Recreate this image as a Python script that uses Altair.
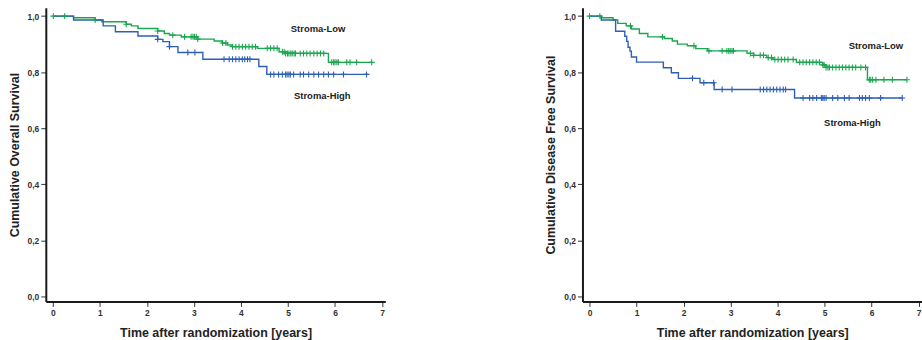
import altair as alt
import pandas as pd

GREEN = "#1aa64f"
BLUE = "#2f5fb3"

groups = ["Stroma-Low", "Stroma-High"]

# ---- Overall survival (left panel) ----
os_low_t = [0, 0.44, 0.9, 1.04, 1.56, 1.67, 1.81, 2.23, 2.37, 2.48, 2.73, 3.08, 3.43, 3.6, 3.71, 3.82, 4.35, 4.81, 4.95, 5.86, 6.78]
os_low_s = [1.0, 0.994, 0.986, 0.98, 0.971, 0.965, 0.956, 0.947, 0.938, 0.932, 0.926, 0.918, 0.911, 0.904, 0.897, 0.891, 0.885, 0.873, 0.867, 0.835, 0.835]
os_high_t = [0, 0.44, 1.07, 1.33, 1.81, 2.23, 2.34, 2.48, 2.66, 3.19, 4.38, 4.55, 6.71]
os_high_s = [1.0, 0.986, 0.965, 0.944, 0.929, 0.917, 0.909, 0.891, 0.87, 0.846, 0.82, 0.792, 0.792]
os_low_c = [0.01, 0.25, 0.9, 1.56, 2.23, 2.55, 2.8, 2.94, 2.98, 3.01, 3.05, 3.08, 3.61, 3.68, 3.82, 3.89,
            3.96, 4.03, 4.1, 4.17, 4.24, 4.31, 4.56, 4.63, 4.7, 4.77, 4.88, 4.92, 4.95, 4.99, 5.02, 5.06,
            5.09, 5.13, 5.16, 5.26, 5.33, 5.4, 5.47, 5.55, 5.62, 5.69, 5.76, 5.93, 5.97, 6.0, 6.04, 6.07,
            6.25, 6.32, 6.46, 6.78]
os_high_c = [2.23, 2.48, 2.87, 3.02, 3.64, 3.75, 3.82, 3.89, 3.96, 4.03, 4.08, 4.14, 4.19, 4.63, 4.7, 4.8,
             4.88, 4.95, 4.98, 5.02, 5.05, 5.12, 5.26, 5.33, 5.44, 5.55, 5.65, 5.76, 5.86, 5.97, 6.18, 6.67]

# ---- Disease free survival (right panel) ----
dfs_low_t = [0, 0.25, 0.5, 0.6, 0.78, 0.89, 1.06, 1.24, 1.59, 1.76, 1.87, 2.08, 2.26, 2.51, 3.35, 3.49, 3.77, 3.9, 4.4, 4.96, 5.03, 5.91, 6.75]
dfs_low_s = [1.0, 0.994, 0.986, 0.974, 0.965, 0.954, 0.938, 0.926, 0.92, 0.911, 0.9, 0.894, 0.884, 0.876, 0.867, 0.86, 0.852, 0.845, 0.835, 0.826, 0.817, 0.773, 0.773]
dfs_high_t = [0, 0.25, 0.555, 0.75, 0.79, 0.82, 0.86, 0.89, 1.0, 1.57, 1.74, 1.89, 2.35, 2.65, 4.36, 6.65]
dfs_high_s = [1.0, 0.986, 0.946, 0.928, 0.91, 0.889, 0.875, 0.854, 0.836, 0.816, 0.798, 0.778, 0.762, 0.738, 0.708, 0.708]
dfs_low_c = [0.0, 0.22, 0.87, 1.55, 2.22, 2.54, 2.82, 2.92, 2.96, 2.99, 3.03, 3.06, 3.42, 3.49, 3.63, 3.7,
             3.8, 3.87, 3.94, 4.01, 4.08, 4.15, 4.22, 4.33, 4.47, 4.54, 4.61, 4.68, 4.75, 4.82, 4.89, 4.96,
             4.99, 5.03, 5.07, 5.1, 5.17, 5.24, 5.31, 5.38, 5.45, 5.52, 5.59, 5.66, 5.77, 5.87, 5.95, 5.98,
             6.02, 6.09, 6.26, 6.44, 6.75]
dfs_high_c = [2.19, 2.43, 2.64, 2.82, 3.03, 3.63, 3.7, 3.77, 3.84, 3.91, 3.98, 4.05, 4.12, 4.17, 4.54, 4.68,
              4.75, 4.83, 4.93, 4.96, 4.99, 5.03, 5.17, 5.28, 5.42, 5.52, 5.74, 5.8, 5.87, 5.95, 6.19, 6.65]

x_ticks = [0, 1, 2, 3, 4, 5, 6, 7]
y_ticks = [0.0, 0.2, 0.4, 0.6, 0.8, 1.0]
x_title = "Time after randomization [years]"
y_titles = ["Cumulative Overall Survival", "Cumulative Disease Free Survival"]

# annotation anchors (time, survival)
os_label_t = [5.64, 5.73]
os_label_s = [0.954, 0.715]
dfs_label_t = [6.09, 5.59]
dfs_label_s = [0.894, 0.617]

FONT = "Liberation Sans"
W, H = 341, 295
XDOM = [-0.15, 7.07]
YDOM = [-0.018, 1.03]


def step_value(ts, ss, t):
    v = ss[0]
    for ti, si in zip(ts, ss):
        if ti <= t:
            v = si
        else:
            break
    return v


def panel(low_t, low_s, high_t, high_s, low_c, high_c, ytitle, lab_t, lab_s):
    lines = pd.DataFrame(
        [{"t": t, "s": s, "g": groups[0]} for t, s in zip(low_t, low_s)]
        + [{"t": t, "s": s, "g": groups[1]} for t, s in zip(high_t, high_s)]
    )
    cens = pd.DataFrame(
        [{"t": t, "s": step_value(low_t, low_s, t), "g": groups[0]} for t in low_c]
        + [{"t": t, "s": step_value(high_t, high_s, t), "g": groups[1]} for t in high_c]
    )
    labels = pd.DataFrame({"t": lab_t, "s": lab_s, "g": groups})

    xenc = alt.X("t:Q", scale=alt.Scale(domain=XDOM, nice=False, zero=False),
                 axis=alt.Axis(values=x_ticks, format="d", title=x_title))
    yenc = alt.Y("s:Q", scale=alt.Scale(domain=YDOM, nice=False, zero=False),
                 axis=alt.Axis(values=y_ticks, title=ytitle,
                               labelExpr="replace(format(datum.value, '.1f'), '.', ',')"))
    cenc = alt.Color("g:N", scale=alt.Scale(domain=groups, range=[GREEN, BLUE]), legend=None)

    line = alt.Chart(lines).mark_line(interpolate="step-after", strokeWidth=1.4).encode(
        x=xenc, y=yenc, color=cenc, detail="g:N")
    pts = alt.Chart(cens).mark_point(shape="M0,-1L0,1M-1,0L1,0", size=36, filled=False,
                                     strokeWidth=1.1, opacity=1).encode(
        x="t:Q", y="s:Q", color=cenc)
    txt = alt.Chart(labels).mark_text(font=FONT, fontWeight="bold", fontSize=9.5,
                                      color="#222222").encode(
        x="t:Q", y="s:Q", text="g:N")
    return alt.layer(line, pts, txt).properties(width=W, height=H)


left = panel(os_low_t, os_low_s, os_high_t, os_high_s, os_low_c, os_high_c, y_titles[0], os_label_t, os_label_s)
right = panel(dfs_low_t, dfs_low_s, dfs_high_t, dfs_high_s, dfs_low_c, dfs_high_c, y_titles[1], dfs_label_t, dfs_label_s)

chart = alt.hconcat(left, right, spacing=160).properties(
    padding={"left": 8, "top": 7, "right": 0, "bottom": 0}
).configure_view(stroke=None).configure_axis(
    grid=False,
    domainColor="#1a1a1a",
    domainWidth=2,
    tickColor="#333333",
    tickWidth=1,
    tickSize=5,
    labelFont=FONT,
    labelFontWeight="bold",
    labelFontSize=8.5,
    labelColor="#333333",
    labelPadding=2,
    titleFont=FONT,
    titleFontWeight="bold",
    titleFontSize=12.5,
    titleColor="#222222",
).configure_axisY(titlePadding=6).configure_axisX(titlePadding=10)

chart.save("out.html", embed_options={"renderer": "svg", "actions": False})
